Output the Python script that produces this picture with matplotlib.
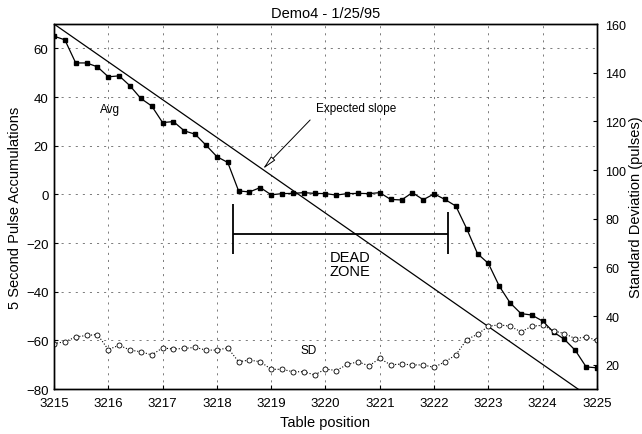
import matplotlib

matplotlib.use("Agg")

import matplotlib.pyplot as plt
import numpy as np

plt.rcParams["font.family"] = ["Liberation Sans", "DejaVu Sans"]

# Table positions, sampled every 0.2
POSITIONS = np.round(np.arange(3215.0, 3225.01, 0.2), 1)

AVG = [
    65.0, 63.5, 54.0, 54.0, 52.4, 48.3, 48.7, 44.6, 39.4, 36.3,
    29.5, 29.9, 26.1, 24.7, 20.2, 15.5, 13.1, 1.4, 1.0, 2.8,
    -0.2, 0.3, 0.4, 0.7, 0.4, 0.3, -0.3, 0.3, 0.4, 0.3,
    0.7, -2.1, -2.3, 0.7, -2.2, 0.2, -2.1, -4.8, -14.1, -24.4,
    -28.4, -37.7, -44.6, -49.0, -49.6, -52.1, -56.6, -59.6, -64.1, -70.9,
    -71.3,
]

SD = [
    28.7, 29.4, 31.4, 32.0, 32.4, 26.2, 28.0, 26.0, 25.3, 24.0,
    26.9, 26.4, 26.7, 27.1, 26.0, 26.0, 26.9, 21.2, 21.9, 21.2,
    18.1, 18.1, 17.1, 17.1, 15.8, 18.2, 17.6, 20.1, 21.2, 19.5,
    22.6, 19.9, 20.3, 19.9, 19.9, 18.9, 21.2, 24.0, 30.3, 32.5,
    35.8, 36.4, 35.8, 33.5, 35.8, 36.2, 33.9, 32.8, 30.7, 31.4,
    30.0,
]

# Expected slope end points
SLOPE_X = [3215.0, 3224.65]
SLOPE_Y = [70.0, -80.0]

# Dead zone bracket (start, end) and its level
DEAD_ZONE = (3218.3, 3222.25)
DEAD_ZONE_LEVEL = -16.2
DEAD_ZONE_BARS = {"left": (-4.0, -24.7), "right": (-7.3, -24.7)}

X_TICKS = list(range(3215, 3226))
LEFT_TICKS = list(range(-80, 61, 20))
RIGHT_TICKS = list(range(20, 161, 20))

GRID_STYLE = dict(color="0.4", linewidth=0.6, linestyle=(0, (2.5, 6)))


def main() -> None:
    fig = plt.figure(figsize=(6.42, 4.35), dpi=100)
    ax = fig.add_axes([0.0841, 0.1034, 0.8458, 0.8391])
    ax2 = ax.twinx()

    ax.set_xlim(3215, 3225)
    ax.set_ylim(-80, 70)
    ax2.set_ylim(10, 160)

    ax.set_xticks(X_TICKS)
    ax.set_xticklabels([str(t) for t in X_TICKS])
    ax.set_yticks(LEFT_TICKS)
    ax2.set_yticks(RIGHT_TICKS)

    ax.grid(True, **GRID_STYLE)

    # expected slope
    ax.plot(SLOPE_X, SLOPE_Y, color="black", linewidth=0.9, zorder=3)

    # average pulse accumulations
    ax.plot(POSITIONS, AVG, color="black", linewidth=0.9, marker="s",
            markersize=3.4, markerfacecolor="black", markeredgecolor="black",
            zorder=4)

    # standard deviation on the right axis
    ax2.plot(POSITIONS, SD, color="black", linewidth=0.8, linestyle=":",
             marker="o", markersize=3.6, markerfacecolor="white",
             markeredgecolor="black", markeredgewidth=0.6)

    # dead zone bracket
    x0, x1 = DEAD_ZONE
    ax.hlines(DEAD_ZONE_LEVEL, x0, x1, color="black", linewidth=1.3)
    ax.vlines(x0, *DEAD_ZONE_BARS["left"], color="black", linewidth=1.3)
    ax.vlines(x1, *DEAD_ZONE_BARS["right"], color="black", linewidth=1.3)
    ax.text(3220.45, -28.6, "DEAD\nZONE", ha="center", va="center",
            fontsize=10.5, linespacing=1.05)

    ax.text(3216.03, 35.0, "Avg", ha="center", va="center", fontsize=8.5)
    ax.text(3219.69, -64.1, "SD", ha="center", va="center", fontsize=8.5)

    ax.annotate(
        "Expected slope",
        xy=(3218.85, 10.5),
        xytext=(3219.82, 35.4),
        ha="left",
        va="center",
        fontsize=8.5,
        arrowprops=dict(
            arrowstyle="-|>,head_length=1.0,head_width=0.2",
            facecolor="white",
            edgecolor="black",
            linewidth=0.7,
            relpos=(0.0, 0.0),
            shrinkA=3,
            shrinkB=0,
        ),
    )

    for a in (ax, ax2):
        for spine in a.spines.values():
            spine.set_linewidth(1.0)
            spine.set_color("black")
        a.tick_params(direction="in", length=3, width=0.8, colors="black")
    ax.tick_params(axis="x", pad=6, labelsize=9.5)
    ax.tick_params(axis="y", pad=4, labelsize=9.5)
    ax2.tick_params(axis="y", pad=6, labelsize=9)

    ax.set_title("Demo4 - 1/25/95", fontsize=10.5, pad=5)
    ax.set_xlabel("Table position", fontsize=10.5, labelpad=4)
    ax.set_ylabel("5 Second Pulse Accumulations", fontsize=10.5, labelpad=3)
    ax2.set_ylabel("Standard Deviation (pulses)", fontsize=10.5, labelpad=2)

    fig.savefig("out.png", dpi=100)
    plt.close(fig)


if __name__ == "__main__":
    main()
